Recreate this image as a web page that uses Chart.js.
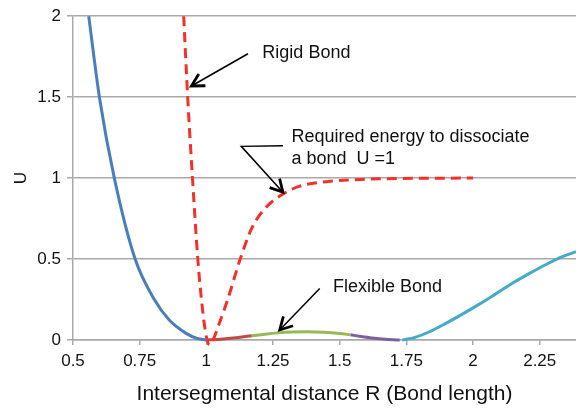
<!DOCTYPE html>
<html>
<head>
<meta charset="utf-8">
<script src="https://cdn.jsdelivr.net/npm/chart.js@4.4.0/dist/chart.umd.min.js"></script>
<style>
  body { margin: 0; background: #fff; }
  #wrap { width: 576px; height: 410px; }
</style>
</head>
<body>
<div id="wrap"><canvas id="myChart" width="576" height="410"></canvas></div>
<script>
// potential curves (R = bond length, U = energy)
let blueR = [0.559, 0.599, 0.655, 0.733, 0.805, 0.861, 0.924, 0.965, 1.0]
let blueU = [2, 1.5, 1, 0.5, 0.25, 0.123, 0.041, 0.01, 0]

let rigidR = [0.915, 0.93, 0.948, 0.968, 0.985, 1.0, 1.012, 1.025, 1.05, 1.08, 1.127, 1.173, 1.224, 1.286, 1.35, 1.45, 1.6, 1.8, 2.0]
let rigidU = [2, 1.5, 1, 0.5, 0.2, 0.02, -0.03, 0, 0.11, 0.25, 0.5, 0.7, 0.82, 0.9, 0.95, 0.978, 0.993, 0.999, 1]

let redR = [1.0, 1.04, 1.08, 1.12, 1.17]
let redU = [0, 0.003, 0.009, 0.016, 0.026]

let greenR = [1.17, 1.22, 1.27, 1.32, 1.38, 1.44, 1.5, 1.54]
let greenU = [0.026, 0.036, 0.044, 0.049, 0.051, 0.048, 0.04, 0.032]

let purpleR = [1.54, 1.58, 1.62, 1.66, 1.7, 1.725]
let purpleU = [0.032, 0.022, 0.013, 0.006, 0.001, 0]

let tealR = [1.735, 1.78, 1.837, 1.898, 1.96, 2.022, 2.085, 2.147, 2.21, 2.272, 2.335, 2.386]
let tealU = [0, 0.015, 0.051, 0.103, 0.16, 0.22, 0.285, 0.35, 0.41, 0.465, 0.515, 0.545]

let xTicks = [0.5, 0.75, 1, 1.25, 1.5, 1.75, 2, 2.25]
let yTicks = [0, 0.5, 1, 1.5, 2]

const FONT = '"Liberation Sans", Arial, Helvetica, sans-serif'
const GRID = '#a9a9a9'

function pts(rs, us) {
    let out = []
    for (let i = 0; i < rs.length; i++) {
        out.push({x: rs[i], y: us[i]})
    }
    return out
}

function line(label, rs, us, color, dash) {
    return {
        label: label,
        data: pts(rs, us),
        showLine: true,
        borderColor: color,
        borderWidth: 3,
        borderDash: dash || [],
        pointRadius: 0,
        cubicInterpolationMode: 'monotone',
        clip: {left: 0, top: 4, right: 0, bottom: 8}
    }
}

// text notes and arrows, placed in data units
const notes = {
    id: 'notes',
    afterDatasetsDraw(chart) {
        const ctx = chart.ctx
        const sx = chart.scales.x, sy = chart.scales.y
        const P = (r, u) => [sx.getPixelForValue(r), sy.getPixelForValue(u)]

        ctx.save()
        ctx.fillStyle = '#111'
        ctx.font = '18px ' + FONT
        ctx.textAlign = 'left'
        ctx.textBaseline = 'alphabetic'

        let t = P(1.21, 1.744)
        ctx.fillText('Rigid Bond', t[0], t[1])
        t = P(1.319, 1.22)
        ctx.fillText('Required energy to dissociate', t[0], t[1])
        t = P(1.319, 1.087)
        ctx.fillText('a bond  U =1', t[0], t[1])
        t = P(1.475, 0.297)
        ctx.fillText('Flexible Bond', t[0], t[1])

        arrow(ctx, [P(1.156, 1.768), P(0.944, 1.569)])
        arrow(ctx, [P(1.287, 1.2), P(1.131, 1.196), P(1.287, 0.913)])
        arrow(ctx, [P(1.425, 0.318), P(1.275, 0.062)])
        ctx.restore()
    }
}

function arrow(ctx, path) {
    ctx.strokeStyle = '#000'
    ctx.lineWidth = 1.5
    ctx.beginPath()
    ctx.moveTo(path[0][0], path[0][1])
    for (let i = 1; i < path.length; i++) ctx.lineTo(path[i][0], path[i][1])
    ctx.stroke()

    let a = path[path.length - 2], b = path[path.length - 1]
    let ang = Math.atan2(b[1] - a[1], b[0] - a[0])
    let len = 14, spread = 0.5
    ctx.lineWidth = 2.8
    ctx.lineJoin = 'miter'
    ctx.beginPath()
    ctx.moveTo(b[0] - len * Math.cos(ang - spread), b[1] - len * Math.sin(ang - spread))
    ctx.lineTo(b[0], b[1])
    ctx.lineTo(b[0] - len * Math.cos(ang + spread), b[1] - len * Math.sin(ang + spread))
    ctx.stroke()
}

var ctx1 = document.getElementById('myChart')

new Chart(ctx1, {
    type: 'scatter',
    data: {
        datasets: [
            line('Repulsive', blueR, blueU, '#4a7ebb'),
            line('Rigid', rigidR, rigidU, '#f5302a', [10, 6]),
            line('Flexible 1', redR, redU, '#be4b48'),
            line('Flexible 2', greenR, greenU, '#98b954'),
            line('Flexible 3', purpleR, purpleU, '#7d60a0'),
            line('Flexible 4', tealR, tealU, '#46aac5')
        ]
    },
    options: {
        responsive: false,
        animation: false,
        layout: {padding: {top: 15, right: 0, bottom: 0, left: 0}},
        plugins: {
            legend: {display: false},
            tooltip: {enabled: false}
        },
        scales: {
            x: {
                type: 'linear',
                min: 0.5,
                max: 2.386,
                afterFit(s) { s.height = 70 },
                afterBuildTicks(s) { s.ticks = xTicks.map(v => ({value: v})) },
                ticks: {
                    color: '#111',
                    padding: 6,
                    maxRotation: 0,
                    autoSkip: false,
                    font: {family: FONT, size: 17},
                    callback: v => String(Math.round(v * 100) / 100)
                },
                grid: {drawOnChartArea: false, color: GRID, tickLength: 5, lineWidth: 1.5},
                border: {color: GRID, width: 1.5},
                title: {
                    display: true,
                    text: 'Intersegmental distance R (Bond length)',
                    color: '#111',
                    font: {family: FONT, size: 21},
                    padding: {top: 0, bottom: 3}
                }
            },
            y: {
                min: 0,
                max: 2,
                afterFit(s) { s.width = 73 },
                afterBuildTicks(s) { s.ticks = yTicks.map(v => ({value: v})) },
                ticks: {
                    color: '#111',
                    padding: 6,
                    font: {family: FONT, size: 17},
                    callback: v => String(v)
                },
                grid: {color: GRID, tickLength: 6, lineWidth: 1.5},
                border: {color: GRID, width: 1.5},
                title: {
                    display: true,
                    text: 'U',
                    color: '#111',
                    font: {family: FONT, size: 17},
                    padding: {top: 11, bottom: 0}
                }
            }
        }
    },
    plugins: [notes]
})
</script>
</body>
</html>
